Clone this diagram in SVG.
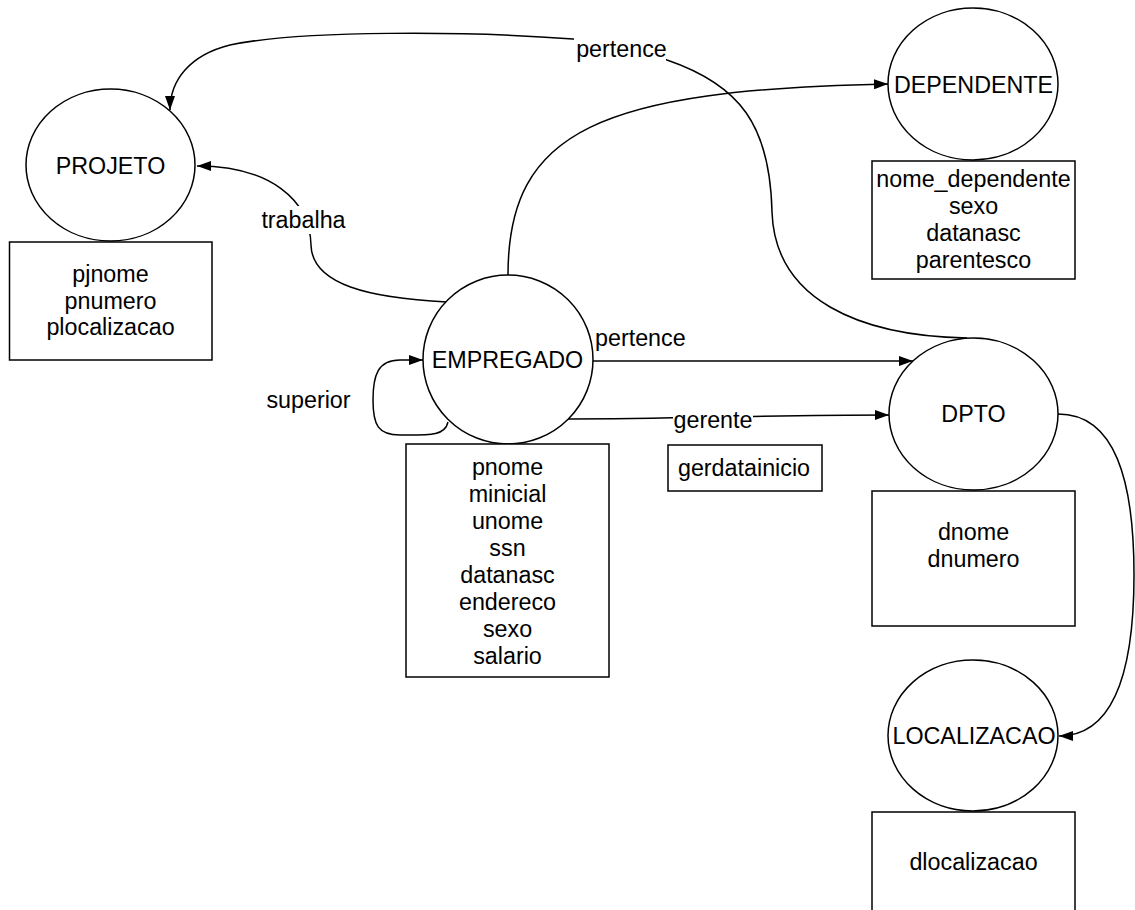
<svg xmlns="http://www.w3.org/2000/svg" width="1135" height="910" viewBox="0 0 1135 910">
  <style>
    .shape { fill: #ffffff; stroke: #000000; stroke-width: 1.5; }
    .edge { fill: none; stroke: #000000; stroke-width: 1.5; }
    .lbl-bg { fill: #ffffff; stroke: none; }
    text { font-family: "Liberation Sans", Arial, Helvetica, sans-serif; font-size: 23.3px; fill: #000000; }
    .c { text-anchor: middle; }
  </style>
  <defs>
    <marker id="arrow" markerUnits="userSpaceOnUse" markerWidth="14" markerHeight="10" refX="14" refY="5" orient="auto">
      <path d="M0,0 L14,5 L0,10 z" fill="#000000"/>
    </marker>
  </defs>
  <rect width="1135" height="910" fill="#ffffff"/>

  <!-- connectors -->
  <g id="connectors">
    <!-- DPTO pertence PROJETO -->
    <path class="edge" marker-end="url(#arrow)" d="M967,338 C860,336 775,300 772,212 C770,125 740,85 667,60 C640,50 610,42 573,39 C470,31 300,30 230,45 C190,55 170,80 170,110"/>
    <rect class="lbl-bg" x="574" y="36" width="92" height="28"/>
    <text class="c" x="621.5" y="57">pertence</text>

    <!-- EMPREGADO trabalha PROJETO -->
    <path class="edge" marker-end="url(#arrow)" d="M447,302 C370,298 312,285 311,245 C310,200 270,166 197,166"/>
    <rect class="lbl-bg" x="259" y="206" width="90" height="28"/>
    <text class="c" x="303.5" y="228">trabalha</text>

    <!-- EMPREGADO to DEPENDENTE -->
    <path class="edge" marker-end="url(#arrow)" d="M508,275 C508,130 600,90 888,84"/>

    <!-- superior (self relation) -->
    <path class="edge" marker-end="url(#arrow)" d="M448,422 C445,436 430,435 400,435 C378,435 373,425 373,400 C373,375 378,360 400,360 L423,360"/>
    <text class="c" x="308.5" y="408">superior</text>

    <!-- EMPREGADO pertence DPTO -->
    <path class="edge" marker-end="url(#arrow)" d="M593,361 L913,361"/>
    <text x="595" y="346">pertence</text>

    <!-- EMPREGADO gerente DPTO -->
    <path class="edge" marker-end="url(#arrow)" d="M568,419 C680,419 760,415 889,415"/>
    <rect class="lbl-bg" x="673" y="406" width="80" height="28"/>
    <text class="c" x="713" y="428">gerente</text>

    <!-- DPTO to LOCALIZACAO -->
    <path class="edge" marker-end="url(#arrow)" d="M1058,414 C1115,414 1134,480 1134,575 C1134,680 1110,736 1059,736"/>
  </g>

  <!-- PROJETO -->
  <g id="projeto">
    <ellipse class="shape" cx="110.5" cy="165" rx="84.5" ry="76"/>
    <text class="c" x="110.5" y="174">PROJETO</text>
    <rect class="shape" x="9.5" y="242" width="202.5" height="118"/>
    <text class="c" x="110.5" y="282">pjnome</text>
    <text class="c" x="110.5" y="308.5">pnumero</text>
    <text class="c" x="110.5" y="335">plocalizacao</text>
  </g>

  <!-- DEPENDENTE -->
  <g id="dependente">
    <ellipse class="shape" cx="973" cy="84" rx="85" ry="76"/>
    <text class="c" x="973.5" y="92.5">DEPENDENTE</text>
    <rect class="shape" x="872" y="161" width="203" height="118"/>
    <text class="c" x="973.5" y="186.5">nome_dependente</text>
    <text class="c" x="973.5" y="213.5">sexo</text>
    <text class="c" x="973.5" y="240.5">datanasc</text>
    <text class="c" x="973.5" y="267.5">parentesco</text>
  </g>

  <!-- EMPREGADO -->
  <g id="empregado">
    <ellipse class="shape" cx="508" cy="359.5" rx="85" ry="84.5"/>
    <text class="c" x="507.5" y="368">EMPREGADO</text>
    <rect class="shape" x="406" y="444" width="203" height="233"/>
    <text class="c" x="507.5" y="475">pnome</text>
    <text class="c" x="507.5" y="502">minicial</text>
    <text class="c" x="507.5" y="529">unome</text>
    <text class="c" x="507.5" y="556">ssn</text>
    <text class="c" x="507.5" y="583">datanasc</text>
    <text class="c" x="507.5" y="610">endereco</text>
    <text class="c" x="507.5" y="637">sexo</text>
    <text class="c" x="507.5" y="664">salario</text>
  </g>

  <!-- gerente attribute -->
  <g id="gerente-attr">
    <rect class="shape" x="668" y="445" width="154" height="46"/>
    <text class="c" x="744" y="476">gerdatainicio</text>
  </g>

  <!-- DPTO -->
  <g id="dpto">
    <ellipse class="shape" cx="973.5" cy="414" rx="84.5" ry="76"/>
    <text class="c" x="973.5" y="422">DPTO</text>
    <rect class="shape" x="872" y="491" width="203" height="135"/>
    <text class="c" x="973.5" y="539.5">dnome</text>
    <text class="c" x="973.5" y="566.5">dnumero</text>
  </g>

  <!-- LOCALIZACAO -->
  <g id="localizacao">
    <ellipse class="shape" cx="973" cy="735.5" rx="85" ry="75.5"/>
    <text class="c" x="974" y="744">LOCALIZACAO</text>
    <rect class="shape" x="872" y="812" width="203" height="110"/>
    <text class="c" x="973.5" y="870">dlocalizacao</text>
  </g>
</svg>
